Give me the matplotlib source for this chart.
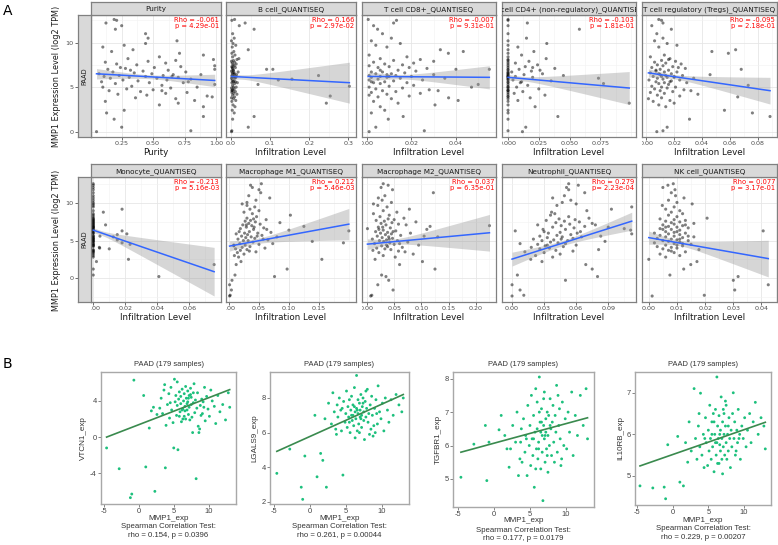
import numpy as np
import matplotlib
matplotlib.use("Agg")
import matplotlib.pyplot as plt
from matplotlib.ticker import FixedLocator, AutoMinorLocator
from matplotlib.transforms import Bbox, TransformedBbox

plt.rcParams['font.family'] = ['DejaVu Sans']

NA = np.nan

# ---------------- Panel A data ----------------
# MMP1 expression (log2 TPM), shared by the panels of each row
Y1 = [0.0, 0.1, 0.5, 1.4, 1.7, 2.1, 2.4, 2.8, 3.0, 3.2,
      3.4, 3.5, 3.7, 3.8, 3.9, 4.0, 4.1, 4.2, 4.3, 4.4,
      4.5, 4.6, 4.7, 4.8, 4.9, 5.0, 5.0, 5.1, 5.2, 5.3,
      5.4, 5.5, 5.5, 5.6, 5.7, 5.8, 5.8, 5.9, 6.0, 6.0,
      6.1, 6.1, 6.2, 6.2, 6.3, 6.3, 6.4, 6.5, 6.5, 6.6,
      6.7, 6.7, 6.8, 6.9, 7.0, 7.0, 7.1, 7.2, 7.3, 7.4,
      7.5, 7.6, 7.7, 7.8, 7.9, 8.0, 8.2, 8.4, 8.6, 8.8,
      9.0, 9.2, 9.5, 9.7, 9.9, 10.2, 10.5, 11.0, 11.5, 11.9,
      12.2, 12.5, 12.6, 8.1, 7.2, 6.4, 5.6, 4.6, 6.9, 6.2]

purity_x = [0.05, 0.80, 0.25, 0.19, 0.90, 0.13, 0.27, 0.90, 0.55, 0.70,
            0.12, 0.83, 0.68, 0.36, 0.97, 0.93, 0.45, 0.22, 0.60, 0.77,
            0.40, 0.15, 0.50, 0.29, 0.64, 0.10, 0.85, 0.33, 0.57, 0.99,
            0.20, 0.74, 0.47, 0.09, 0.38, 0.61, 0.26, 0.80, 0.16, 0.53,
            0.31, 0.70, 0.11, 0.44, 0.58, 0.23, 0.66, 0.07, 0.49, 0.35,
            0.18, 0.76, 0.42, 0.62, 0.14, 0.99, 0.28, 0.51, 0.72, 0.99,
            0.37, 0.21, 0.60, 0.12, 0.46, 0.68, 0.30, 0.55, 0.90, 0.71,
            0.17, 0.34, 0.10, 0.27, 0.44, 0.69, 0.46, 0.44, 0.20, 0.25,
            0.125, 0.21, 0.19, 0.98, 0.24, 0.88, 0.78, 0.57, 0.32, 0.65]

bcell_x = [0.001, 0.002, 0.044, 0.004, 0.059, 0.008, 0.003, 0.010, 0.005, 0.244,
           0.002, 0.012, 0.006, 0.001, 0.009, 0.254, 0.004, 0.015, 0.007, 0.002,
           0.011, 0.005, 0.003, 0.008, 0.001, 0.013, 0.006, 0.303, 0.004, 0.069,
           0.009, 0.002, 0.016, 0.005, 0.007, 0.121, 0.003, 0.156, 0.010, 0.001,
           0.006, 0.012, 0.004, 0.008, 0.224, 0.002, 0.014, 0.005, 0.009, 0.003,
           0.007, 0.018, 0.001, 0.006, 0.091, 0.107, 0.004, 0.011, 0.002, 0.008,
           0.005, 0.013, 0.003, 0.009, 0.001, 0.006, 0.020, 0.004, 0.010, 0.002,
           0.007, 0.044, 0.003, 0.012, 0.005, 0.001, 0.008, 0.004, 0.059, 0.021,
           0.036, 0.002, 0.009, 0.015, 0.003, 0.007, 0.011, 0.002, 0.005, 0.013]

cd8_x = [0.001, 0.0258, 0.004, 0.0096, 0.0163, 0.002, 0.008, 0.006, 0.0306, 0.014,
         0.003, 0.041, 0.011, 0.0367, 0.005, 0.019, 0.001, 0.009, 0.024, 0.002,
         0.013, 0.007, 0.028, 0.004, 0.016, 0.047, 0.001, 0.010, 0.021, 0.050,
         0.006, 0.003, 0.018, 0.008, 0.012, 0.001, 0.025, 0.005, 0.015, 0.035,
         0.002, 0.009, 0.020, 0.006, 0.013, 0.001, 0.030, 0.004, 0.011, 0.017,
         0.007, 0.002, 0.022, 0.014, 0.055, 0.040, 0.027, 0.005, 0.010, 0.001,
         0.016, 0.008, 0.021, 0.003, 0.030, 0.012, 0.006, 0.018, 0.001, 0.0366,
         0.0433, 0.033, 0.009, 0.004, 0.015, 0.002, 0.011, 0.007, 0.0048, 0.003,
         0.012, 0.0133, 0.0006, 0.024, 0.019, 0.009, 0.002, 0.032, 0.006, 0.010]

cd4_x = [0.0117, 0.0, 0.0144, 0.0, 0.0405, 0.0, 0.0, 0.022, 0.0, 0.0985,
         0.0, 0.008, 0.0, 0.018, 0.0, 0.0, 0.030, 0.0, 0.005, 0.0,
         0.012, 0.0, 0.0, 0.025, 0.0, 0.007, 0.0, 0.0, 0.016, 0.0,
         0.0776, 0.0, 0.010, 0.0, 0.035, 0.0, 0.004, 0.0, 0.0735, 0.0,
         0.020, 0.0, 0.006, 0.0, 0.045, 0.0, 0.013, 0.0, 0.028, 0.0,
         0.003, 0.0, 0.019, 0.0, 0.009, 0.0, 0.038, 0.0, 0.014, 0.0,
         0.024, 0.0, 0.006, 0.0, 0.017, 0.0, 0.031, 0.0, 0.011, 0.0,
         0.021, 0.0, 0.008, 0.0, 0.0315, 0.0, 0.015, 0.0, 0.058, 0.0,
         0.0157, 0.0, 0.0, 0.0, 0.020, 0.0, 0.011, 0.0, 0.026, 0.0]

tregs_x = [0.0076, 0.012, 0.015, 0.031, 0.0886, 0.076, 0.056, 0.014, 0.009, 0.020,
           0.005, 0.017, 0.0016, 0.011, 0.0655, 0.024, 0.008, 0.037, 0.013, 0.003,
           0.019, 0.010, 0.027, 0.006, 0.015, 0.021, 0.011, 0.004, 0.073, 0.016,
           0.009, 0.029, 0.013, 0.007, 0.018, 0.002, 0.024, 0.012, 0.034, 0.008,
           0.015, 0.020, 0.005, 0.011, 0.026, 0.014, 0.0457, 0.009, 0.018, 0.003,
           0.013, 0.022, 0.007, 0.016, 0.068, 0.010, 0.028, 0.004, 0.019, 0.012,
           0.008, 0.025, 0.014, 0.006, 0.021, 0.011, 0.017, 0.003, 0.013, 0.0588,
           0.047, 0.064, 0.009, 0.022, 0.015, 0.006, 0.012, 0.0076, 0.018, 0.004,
           0.012, 0.011, 0.009, 0.016, 0.023, 0.010, 0.017, 0.032, 0.007, 0.020]

Y2 = [-2.4, -2.3, -1.6, -0.9, -0.3, 0.2, 0.4, 1.2, 1.8, 2.2,
      2.5, 2.8, 3.0, 3.2, 3.4, 3.5, 3.7, 3.8, 3.9, 4.0,
      4.1, 4.2, 4.3, 4.4, 4.5, 4.6, 4.7, 4.8, 4.9, 5.0,
      5.0, 5.1, 5.2, 5.3, 5.4, 5.5, 5.5, 5.6, 5.7, 5.8,
      5.9, 6.0, 6.0, 6.1, 6.2, 6.3, 6.4, 6.5, 6.6, 6.7,
      6.8, 6.9, 7.0, 7.1, 7.2, 7.3, 7.4, 7.5, 7.6, 7.7,
      7.8, 7.9, 8.0, 8.2, 8.4, 8.6, 8.8, 9.0, 9.2, 9.5,
      9.7, 9.9, 10.1, 10.4, 10.7, 11.0, 11.4, 11.8, 12.1, 12.4,
      12.6, 4.6, 5.6, 6.2, 6.5, 7.1, 3.6, 5.2, 6.8, 4.4]

# NA: not shown in the Monocyte panel
mono_x = [NA, NA, NA, NA, NA, 0.041, 0, 0, 0.0755, 0.002,
          0.022, 0, 0, 0, 0, 0, 0, 0, 0.010, 0.004,
          0.0038, 0, 0, 0, 0.023, 0, 0.018, 0, 0, 0,
          0, 0.015, 0, 0, 0, 0.0125, 0, 0.0042, 0, 0.015,
          0.021, 0, 0, 0, 0, 0.018, 0, 0, 0, 0,
          0, 0, 0, 0.0077, 0, 0, 0, 0, 0, 0,
          0, 0, 0, 0, 0, 0, 0.0063, 0, 0.018, 0,
          0, 0, 0, 0, 0, 0, 0, 0, 0, 0,
          0, 0, 0, 0, 0, 0, 0, 0, 0, 0]

m1_x = [0.001, 0.002, 0.004, 0.001, 0.005, 0.076, 0.010, 0.097, 0.012, 0.020,
        0.155, 0.016, 0.009, 0.025, 0.014, 0.045, 0.019, 0.030, 0.011, 0.060,
        0.022, 0.035, 0.008, 0.027, 0.050, 0.018, 0.191, 0.040, 0.139, 0.024,
        0.032, 0.065, 0.015, 0.043, 0.028, 0.080, 0.037, 0.021, 0.055, 0.031,
        0.012, 0.048, 0.026, 0.070, 0.034, 0.200, 0.100, 0.041, 0.019, 0.058,
        0.029, 0.125, 0.038, 0.023, 0.052, 0.033, 0.085, 0.044, 0.027, 0.036,
        0.062, 0.041, 0.030, 0.046, 0.1025, 0.039, 0.025, 0.050, 0.035, 0.043,
        0.030, 0.022, 0.030, 0.045, 0.068, 0.033, 0.053, 0.050, 0.039, 0.036,
        0.054, 0.073, 0.047, 0.017, 0.063, 0.029, 0.034, 0.057, 0.042, 0.008]

m2_x = [0.007, 0.009, 0.048, 0.020, 0.040, 0.035, 0.027, 0.125, 0.060, 0.102,
        0.015, 0.052, 0.030, 0.085, 0.022, 0.070, 0.011, 0.044, 0.033, 0.018,
        0.065, 0.038, 0.027, 0.095, 0.050, 0.014, 0.042, 0.075, 0.031, 0.023,
        0.056, 0.036, 0.010, 0.047, 0.028, 0.130, 0.040, 0.019, 0.062, 0.034,
        0.045, 0.025, 0.080, 0.038, 0.016, 0.053, 0.030, 0.110, 0.001, 0.043,
        0.021, 0.116, 0.225, 0.035, 0.058, 0.026, 0.046, 0.090, 0.032, 0.017,
        0.050, 0.039, 0.068, 0.024, 0.041, 0.012, 0.055, 0.030, 0.078, 0.037,
        0.020, 0.012, 0.045, 0.028, 0.021, 0.033, 0.122, 0.047, 0.026, 0.039,
        0.030, 0.060, 0.105, 0.048, 0.022, 0.072, 0.058, 0.041, 0.029, 0.036]

neut_x = [0.000, 0.011, 0.0075, 0.000, 0.050, 0.080, 0.005, 0.075, 0.069, 0.028,
          0.0175, 0.038, 0.022, 0.045, 0.030, 0.012, 0.041, 0.081, 0.026, 0.035,
          0.018, 0.048, 0.031, 0.060, 0.024, 0.0075, 0.043, 0.036, 0.087, 0.028,
          0.052, 0.039, 0.020, 0.057, 0.033, 0.047, 0.065, 0.026, 0.042, 0.055,
          0.112, 0.034, 0.061, 0.045, 0.030, 0.003, 0.111, 0.050, 0.105, 0.058,
          0.038, 0.068, 0.046, 0.024, 0.054, 0.075, 0.041, 0.063, 0.049, 0.032,
          0.059, 0.044, 0.072, 0.053, 0.036, 0.040, 0.037, 0.070, 0.093, 0.112,
          0.042, 0.060, 0.047, 0.055, 0.038, 0.049, 0.068, 0.053, 0.051, 0.062,
          0.053, 0.050, 0.083, 0.064, 0.029, 0.078, 0.057, 0.046, 0.090, 0.033]

nk_x = [0.0012, 0.0197, 0.0305, 0.0424, 0.030, 0.0317, 0.0075, 0.0124, 0.0149, 0.0171,
        0.000, 0.006, 0.011, 0.004, 0.009, 0.013, 0.007, 0.0178, 0.005, 0.010,
        0.008, 0.003, 0.012, 0.006, 0.015, 0.009, 0.002, 0.011, 0.007, 0.014,
        0.005, 0.010, 0.008, 0.003, 0.012, 0.006, 0.016, 0.009, 0.004, 0.011,
        0.007, 0.013, 0.002, 0.009, 0.006, 0.0406, 0.011, 0.008, 0.004, 0.014,
        0.010, 0.007, 0.012, 0.005, 0.009, 0.016, 0.008, 0.011, 0.006, 0.013,
        0.009, 0.004, 0.0207, 0.010, 0.007, 0.012, 0.008, 0.011, 0.006, 0.009,
        0.0048, 0.0154, 0.010, 0.007, 0.0125, 0.0095, 0.008, 0.0093, 0.005, 0.0068,
        0.0087, 0.012, 0.014, 0.010, 0.005, 0.013, 0.008, 0.011, 0.006, 0.010]

row1_titles = ["Purity", "B cell_QUANTISEQ", "T cell CD8+_QUANTISEQ",
               "T cell CD4+ (non-regulatory)_QUANTISEQ", "T cell regulatory (Tregs)_QUANTISEQ"]
row2_titles = ["Monocyte_QUANTISEQ", "Macrophage M1_QUANTISEQ", "Macrophage M2_QUANTISEQ",
               "Neutrophil_QUANTISEQ", "NK cell_QUANTISEQ"]
row1_rho = ["-0.061", "0.166", "-0.007", "-0.103", "-0.095"]
row1_p = ["p = 4.29e-01", "p = 2.97e-02", "p = 9.31e-01", "p = 1.81e-01", "p = 2.18e-01"]
row2_rho = ["-0.213", "0.212", "0.037", "0.279", "0.077"]
row2_p = ["p = 5.16e-03", "p = 5.46e-03", "p = 6.35e-01", "p= 2.23e-04", "p = 3.17e-01"]
row1_xlabels = ["Purity"] + ["Infiltration Level"] * 4
row2_xlabels = ["Infiltration Level"] * 5

row1_xticks = [[0.25, 0.5, 0.75, 1.0], [0.0, 0.1, 0.2, 0.3], [0.0, 0.02, 0.04],
               [0.0, 0.025, 0.05, 0.075], [0.0, 0.02, 0.04, 0.06, 0.08]]
row1_xticklabels = [["0.25", "0.50", "0.75", "1.00"], ["0.0", "0.1", "0.2", "0.3"],
                    ["0.00", "0.02", "0.04"], ["0.000", "0.025", "0.050", "0.075"],
                    ["0.00", "0.02", "0.04", "0.06", "0.08"]]
row2_xticks = [[0.0, 0.02, 0.04, 0.06], [0.0, 0.05, 0.10, 0.15], [0.0, 0.05, 0.10, 0.15, 0.20],
               [0.0, 0.03, 0.06, 0.09], [0.0, 0.01, 0.02, 0.03, 0.04]]
row2_xticklabels = [["0.00", "0.02", "0.04", "0.06"], ["0.00", "0.05", "0.10", "0.15"],
                    ["0.00", "0.05", "0.10", "0.15", "0.20"], ["0.00", "0.03", "0.06", "0.09"],
                    ["0.00", "0.01", "0.02", "0.03", "0.04"]]
row1_xlims = [(0.006, 1.04), (-0.013, 0.32), (-0.0022, 0.058), (-0.0049, 0.104), (-0.003, 0.0936)]
row2_xlims = [(-0.0014, 0.0798), (-0.005, 0.212), (-0.009, 0.237), (-0.0094, 0.116), (-0.0024, 0.0455)]
row1_ylim = (-0.6, 13.1)
row2_ylim = (-3.2, 13.5)
a_yticks = [0, 5, 10]

# regression line (y at min x, y at max x) and CI half-widths (at mean x, at max x)
row1_fit = [(6.5, 5.75), (6.2, 5.5), (6.2, 6.1), (6.1, 4.9), (6.6, 4.6)]
row1_band = [(0.22, 0.7), (0.25, 2.3), (0.25, 1.3), (0.25, 1.85), (0.25, 1.5)]
row2_fit = [(6.4, 0.85), (4.27, 7.2), (4.53, 6.05), (2.53, 7.6), (5.4, 2.6)]
row2_band = [(0.3, 3.25), (0.35, 2.1), (0.35, 2.45), (0.35, 1.2), (0.35, 2.45)]

# ---------------- Panel B data ----------------
mmp1_exp = [-4.6, -2.8, -1.2, -1.0, -0.7, 0.7, 1.0, 1.5, 1.8, 2.1,
            2.3, 2.6, 3.0, 3.2, 3.4, 3.6, 3.8, 3.9, 4.1, 4.3,
            4.4, 4.6, 4.7, 4.9, 5.0, 5.1, 5.2, 5.3, 5.4, 5.5,
            5.6, 5.7, 5.8, 5.9, 6.0, 6.0, 6.1, 6.2, 6.3, 6.4,
            6.5, 6.5, 6.6, 6.7, 6.7, 6.8, 6.9, 7.0, 7.0, 7.1,
            7.2, 7.2, 7.3, 7.4, 7.5, 7.5, 7.6, 7.7, 7.8, 7.9,
            8.0, 8.1, 8.2, 8.3, 8.4, 8.5, 8.6, 8.7, 8.8, 9.0,
            9.1, 9.2, 9.4, 9.5, 9.7, 9.9, 10.1, 10.3, 10.5, 10.8,
            11.0, 11.3, 11.6, 12.0, 12.4, 12.8, 13.0, 5.5, 6.3, 7.4,
            6.9, 5.8, 4.5, 7.8, 8.9, 6.2, 7.1, 3.7, 9.3, 6.6]

vtcn1_exp = [-1.2, -3.5, -6.7, -6.3, 6.3, 4.6, -3.3, 1.0, 2.9, 3.3,
             -6.0, 2.5, 3.2, 4.3, 2.6, 5.2, -3.4, 1.3, 3.6, 4.8,
             2.1, 5.5, 3.0, 1.6, -1.2, 6.4, 3.9, 4.6, 2.4, 3.5,
             -1.4, 4.2, 5.0, 2.8, 3.7, 4.5, 1.7, 5.3, 3.1, 4.0,
             2.3, 4.8, 3.4, 5.6, 2.0, 4.3, 3.0, 3.9, 5.1, 2.5,
             4.6, 3.3, 1.9, 5.4, 3.6, 4.4, 2.2, 0.5, 3.8, 5.9,
             2.7, 4.1, -4.6, 3.2, 4.9, 1.2, 0.5, 0.9, 3.5, 4.2,
             2.6, 3.9, 5.5, 1.8, 4.5, 3.1, 2.3, 5.2, 4.0, 3.4,
             1.5, 4.6, 2.8, 3.6, 1.9, 4.9, 3.3, 6.1, 2.0, 4.7,
             3.7, 2.3, 3.8, 4.9, 2.4, 3.0, 4.3, 5.8, 3.3, 2.9]

lgals9_exp = [3.65, 5.05, 2.85, 2.15, 4.65, 7.0, 3.45, 4.8, 4.4, 6.8,
              2.85, 7.7, 6.5, 8.3, 7.2, 6.2, 7.6, 6.9, 8.0, 7.3,
              6.1, 3.55, 7.8, 6.6, 7.1, 8.4, 6.3, 7.5, 6.9, 7.9,
              6.0, 7.3, 8.1, 6.7, 7.0, 7.6, 6.4, 8.6, 7.2, 6.8,
              9.3, 7.4, 6.1, 7.9, 7.1, 6.5, 7.7, 7.3, 6.9, 8.2,
              7.0, 6.3, 7.5, 8.0, 6.7, 7.2, 5.6, 7.8, 6.9, 7.4,
              8.5, 6.6, 7.1, 5.9, 7.6, 6.2, 8.1, 7.0, 5.8, 7.4,
              6.0, 7.9, 6.5, 8.7, 7.2, 6.8, 7.7, 6.1, 8.0, 7.3,
              6.6, 7.9, 7.0, 8.2, 7.6, 7.2, 8.0, 6.6, 5.7, 7.7,
              6.0, 7.0, 7.4, 8.4, 6.4, 7.5, 6.8, 5.9, 7.1, 7.3]

tgfbr1_exp = [5.05, 6.04, 6.6, 4.95, 6.1, 6.47, 6.9, 6.3, 5.9, 5.35,
              5.9, 6.6, 6.1, 7.0, 5.1, 5.6, 6.5, 5.5, 6.8, 5.8,
              6.3, 5.1, 7.2, 6.0, 6.6, 5.4, 7.5, 6.2, 5.7, 6.9,
              4.75, 6.4, 7.7, 5.9, 6.5, 7.3, 5.6, 6.1, 8.05, 6.7,
              5.3, 6.4, 7.1, 6.3, 5.8, 4.35, 6.6, 7.6, 6.2, 5.5,
              6.8, 6.4, 5.9, 7.0, 6.3, 5.2, 6.9, 6.0, 7.4, 6.5,
              5.7, 6.7, 7.2, 6.1, 5.5, 6.9, 6.4, 7.8, 5.8, 6.6,
              7.1, 6.2, 5.6, 7.3, 6.0, 6.8, 5.9, 7.0, 6.4, 7.6,
              5.7, 6.9, 6.3, 7.5, 6.6, 7.7, 6.2, 6.2, 7.0, 5.7,
              7.4, 5.3, 6.2, 6.6, 7.5, 5.9, 6.3, 6.1, 5.4, 6.7]

il10rb_exp = [4.76, 4.71, 4.73, 4.45, 5.75, 5.95, 4.85, 4.76, 5.8, 5.33,
              6.3, 5.6, 7.1, 5.9, 5.4, 6.2, 5.7, 6.99, 5.5, 6.0,
              5.2, 6.4, 5.8, 5.25, 6.1, 5.6, 6.7, 5.9, 5.4, 6.3,
              5.7, 6.5, 5.1, 6.0, 5.8, 6.6, 5.5, 7.38, 6.2, 5.9,
              5.3, 6.45, 5.75, 6.1, 5.6, 6.9, 5.9, 5.05, 6.3, 5.7,
              6.0, 6.5, 5.5, 6.2, 5.8, 6.7, 5.4, 6.0, 5.6, 6.4,
              5.9, 5.2, 6.1, 5.7, 6.5, 7.0, 5.9, 6.3, 5.5, 6.1,
              5.8, 6.6, 6.0, 5.4, 6.2, 5.9, 6.4, 5.7, 6.1, 6.5,
              5.8, 6.3, 6.77, 6.0, 6.4, 6.2, 5.65, 6.0, 5.3, 6.8,
              5.4, 6.3, 5.9, 6.2, 5.6, 5.8, 6.6, 6.5, 5.9, 6.0]

b_genes = ["VTCN1_exp", "LGALS9_exp", "TGFBR1_exp", "IL10RB_exp"]
b_stats = ["rho = 0.154, p = 0.0396", "rho = 0.261, p = 0.00044",
           "rho = 0.177, p = 0.0179", "rho = 0.229, p = 0.00207"]
b_fit = [(0.0, 5.25), (4.92, 8.2), (5.8, 6.83), (5.24, 6.29)]
b_xlim = [(-5.4, 13.9), (-5.55, 13.8), (-5.7, 13.9), (-5.3, 13.8)]
b_ylim = [(-7.4, 7.2), (1.88, 9.5), (4.16, 8.2), (4.3, 7.5)]
b_yticks = [[-4, 0, 4], [2, 4, 6, 8], [5, 6, 7, 8], [5, 6, 7]]
b_xticks = [-5, 0, 5, 10]

# ---------------- Figure ----------------
W, H = 778, 545
fig = plt.figure(figsize=(W / 100, H / 100), dpi=100)


def fbox(x0, y0, x1, y1):
    return [x0 / W, 1 - y1 / H, (x1 - x0) / W, (y1 - y0) / H]


def clipbox(x0, x1):
    return TransformedBbox(Bbox.from_extents(x0 / W, 0, x1 / W, 1), fig.transFigure)


BORDER = '#808080'
STRIP = '#D9D9D9'
panel_x = [(91, 221), (226, 356), (362, 496), (502, 636), (642, 777)]


def a_panel(px, py, sy, title, x, y, xlim, ylim, xt, xtl, fit, band, rho, ptxt, xlabel):
    x = np.asarray(x, float)
    y = np.asarray(y, float)
    ok = np.isfinite(x)
    x, y = x[ok], y[ok]
    ax = fig.add_axes(fbox(px[0], py[0], px[1], py[1]))
    ax.set_xlim(xlim)
    ax.set_ylim(ylim)
    ax.xaxis.set_major_locator(FixedLocator(xt))
    ax.set_xticklabels(xtl)
    ax.xaxis.set_minor_locator(AutoMinorLocator(2))
    ax.yaxis.set_major_locator(FixedLocator(a_yticks))
    ax.yaxis.set_minor_locator(AutoMinorLocator(2))
    ax.grid(which='major', color='#E6E6E6', lw=0.6)
    ax.grid(which='minor', color='#F2F2F2', lw=0.4)
    ax.set_axisbelow(True)
    ax.tick_params(axis='y', which='both', left=False, labelleft=False)
    ax.tick_params(axis='x', which='minor', bottom=False)
    ax.tick_params(axis='x', which='major', length=2, width=0.5, color='#333333',
                   labelsize=4.6, labelcolor='#4D4D4D', pad=1.2)
    for s in ax.spines.values():
        s.set_color(BORDER)
        s.set_linewidth(0.9)
    cb = clipbox(px[0], px[1] + 20)
    for t in ax.xaxis.get_major_ticks():
        t.label1.set_clip_box(cb)
        t.label1.set_clip_on(True)
    ax.scatter(x, y, s=5, c='black', alpha=0.5, edgecolors='none', zorder=2)
    xs = np.linspace(x.min(), x.max(), 100)
    ys = fit[0] + (fit[1] - fit[0]) * (xs - x.min()) / (x.max() - x.min())
    xc = x.mean()
    k = (band[1] ** 2 - band[0] ** 2) / (x.max() - xc) ** 2
    hw = np.sqrt(band[0] ** 2 + k * (xs - xc) ** 2)
    ax.fill_between(xs, ys - hw, ys + hw, color='#999999', alpha=0.4, lw=0, zorder=3)
    ax.plot(xs, ys, color='#3366FF', lw=1.1, zorder=4)
    ax.text(0.985, 0.985, "Rho = " + rho + "\n" + ptxt, transform=ax.transAxes,
            ha='right', va='top', color='#FF0000', fontsize=4.9, linespacing=0.95, zorder=5)
    ax.set_xlabel(xlabel, fontsize=6.3, labelpad=1, color='#1A1A1A')
    # strip header
    sx = fig.add_axes(fbox(px[0], sy[0], px[1], sy[1]))
    sx.set_facecolor(STRIP)
    sx.set_xticks([])
    sx.set_yticks([])
    for s in sx.spines.values():
        s.set_color(BORDER)
        s.set_linewidth(0.9)
    tt = sx.text(0.5, 0.45, title, transform=sx.transAxes, ha='center', va='center',
                 fontsize=5.2, color='#1A1A1A', clip_on=True)
    tt.set_clip_box(sx.bbox)
    return ax


def left_strip(py, ylim):
    lx = fig.add_axes(fbox(78, py[0], 91, py[1]))
    lx.set_facecolor(STRIP)
    lx.set_ylim(ylim)
    lx.set_xticks([])
    lx.yaxis.set_major_locator(FixedLocator(a_yticks))
    lx.set_yticklabels([str(v) for v in a_yticks])
    lx.tick_params(axis='y', length=2, width=0.5, color='#333333', labelsize=4.6,
                   labelcolor='#4D4D4D', pad=1.5)
    for s in lx.spines.values():
        s.set_color(BORDER)
        s.set_linewidth(0.9)
    lx.text(0.5, 0.5, "PAAD", transform=lx.transAxes, rotation=90, ha='center',
            va='center', fontsize=4.7, color='#1A1A1A')


row1_x = [purity_x, bcell_x, cd8_x, cd4_x, tregs_x]
row2_x = [mono_x, m1_x, m2_x, neut_x, nk_x]

for i in range(5):
    a_panel(panel_x[i], (15, 137), (2, 15), row1_titles[i], row1_x[i], Y1, row1_xlims[i],
            row1_ylim, row1_xticks[i], row1_xticklabels[i], row1_fit[i], row1_band[i],
            row1_rho[i], row1_p[i], row1_xlabels[i])
    a_panel(panel_x[i], (177, 302), (164, 177), row2_titles[i], row2_x[i], Y2, row2_xlims[i],
            row2_ylim, row2_xticks[i], row2_xticklabels[i], row2_fit[i], row2_band[i],
            row2_rho[i], row2_p[i], row2_xlabels[i])

left_strip((15, 137), row1_ylim)
left_strip((177, 302), row2_ylim)

ylab = "MMP1 Expression Level (log2 TPM)"
fig.text(57 / W, 1 - 76 / H, ylab, rotation=90, ha='center', va='center', fontsize=5.9, color='#1A1A1A')
fig.text(57 / W, 1 - 240 / H, ylab, rotation=90, ha='center', va='center', fontsize=5.9, color='#1A1A1A')

fig.text(3 / W, 1 - 11 / H, "A", fontsize=10, ha='left', va='center')
fig.text(3 / W, 1 - 364 / H, "B", fontsize=10, ha='left', va='center')

# ---------------- Panel B ----------------
b_boxes = [(101, 372, 236, 504), (270, 372, 409, 504), (453, 372, 594, 507), (635, 372, 771, 505)]
b_text_y = [(518, 527, 535.5), (518, 527, 535.5), (521, 530, 538.5), (520, 529, 537.5)]
b_ys = [vtcn1_exp, lgals9_exp, tgfbr1_exp, il10rb_exp]
bx = np.asarray(mmp1_exp, float)
for i in range(4):
    x0, y0, x1, y1 = b_boxes[i]
    ax = fig.add_axes(fbox(x0, y0, x1, y1))
    ax.scatter(bx, b_ys[i], s=4.2, c='#1DC07D', edgecolors='none', zorder=2)
    ax.plot([bx.min(), bx.max()], [b_fit[i][0], b_fit[i][1]], color='#3A8A4E', lw=1.2, zorder=3)
    ax.set_xlim(b_xlim[i])
    ax.set_ylim(b_ylim[i])
    ax.set_xticks(b_xticks)
    ax.set_xticklabels([str(v) for v in b_xticks])
    ax.set_yticks(b_yticks[i])
    ax.set_yticklabels([str(v) for v in b_yticks[i]])
    ax.tick_params(length=2, width=0.5, color='#555555', labelsize=5.4,
                   labelcolor='#444444', pad=1.0)
    for lab in ax.get_xticklabels() + ax.get_yticklabels():
        lab.set_fontfamily('Liberation Sans')
    for s in ax.spines.values():
        s.set_color('#A8A8A8')
        s.set_linewidth(1.0)
    ax.set_ylabel(b_genes[i], fontsize=5.8, family='Liberation Sans', color='#333333', labelpad=2)
    xc = (x0 + x1) / 2 / W
    ty = b_text_y[i]
    fig.text(xc, 1 - 364 / H, "PAAD (179 samples)", ha='center', va='center',
             fontsize=5.4, family='Liberation Sans', color='#333333')
    fig.text(xc, 1 - ty[0] / H, "MMP1_exp", ha='center', va='center',
             fontsize=5.8, family='Liberation Sans', color='#333333')
    fig.text(xc, 1 - ty[1] / H, "Spearman Correlation Test:", ha='center', va='center',
             fontsize=5.6, family='Liberation Sans', color='#333333')
    fig.text(xc, 1 - ty[2] / H, b_stats[i], ha='center', va='center',
             fontsize=5.6, family='Liberation Sans', color='#333333')

fig.savefig("out.png", dpi=100, facecolor='white')
